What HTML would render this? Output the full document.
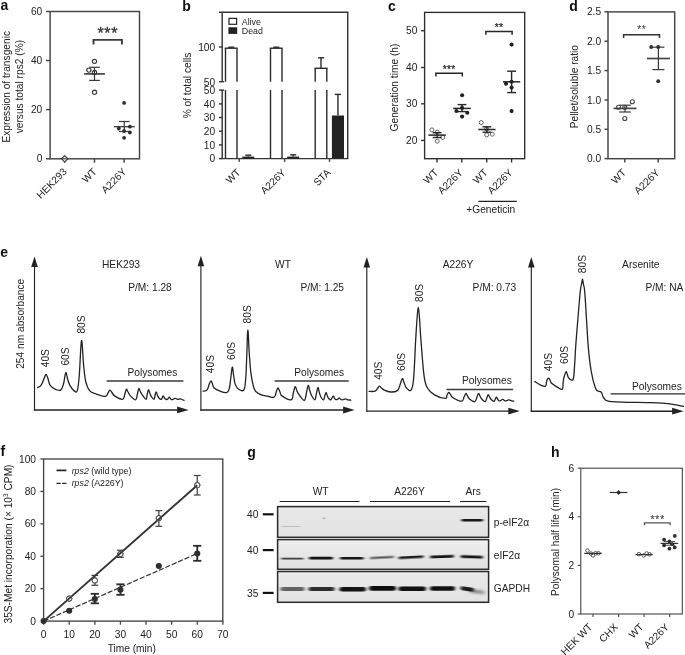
<!DOCTYPE html>
<html><head><meta charset="utf-8"><title>Figure</title>
<style>
html,body{margin:0;padding:0;background:#fff}
svg{display:block}
svg text{font-family:"Liberation Sans",sans-serif}
</style></head><body>
<svg width="685" height="655" viewBox="0 0 685 655">
<rect width="685" height="655" fill="#fff"/>
<text x="0.50" y="9.90" font-size="14" font-weight="bold" fill="#111" >a</text>
<text x="182.30" y="10.50" font-size="14" font-weight="bold" fill="#111" >b</text>
<text x="388.00" y="10.80" font-size="14" font-weight="bold" fill="#111" >c</text>
<text x="569.30" y="10.50" font-size="14" font-weight="bold" fill="#111" >d</text>
<text x="0.30" y="256.50" font-size="14" font-weight="bold" fill="#111" >e</text>
<text x="0.40" y="455.70" font-size="14" font-weight="bold" fill="#111" >f</text>
<text x="247.30" y="456.80" font-size="14" font-weight="bold" fill="#111" >g</text>
<text x="551.00" y="456.80" font-size="14" font-weight="bold" fill="#111" >h</text>
<rect x="50.10" y="11.50" width="89.40" height="147.30" fill="none" stroke="#444" stroke-width="1.45"/>
<line x1="46.00" y1="11.50" x2="50.10" y2="11.50" stroke="#444" stroke-width="1.45" />
<text x="42.30" y="15.10" font-size="10.2" text-anchor="end" fill="#222" >60</text>
<line x1="46.00" y1="60.50" x2="50.10" y2="60.50" stroke="#444" stroke-width="1.45" />
<text x="42.30" y="64.10" font-size="10.2" text-anchor="end" fill="#222" >40</text>
<line x1="46.00" y1="109.60" x2="50.10" y2="109.60" stroke="#444" stroke-width="1.45" />
<text x="42.30" y="113.20" font-size="10.2" text-anchor="end" fill="#222" >20</text>
<line x1="46.00" y1="158.80" x2="50.10" y2="158.80" stroke="#444" stroke-width="1.45" />
<text x="42.30" y="162.40" font-size="10.2" text-anchor="end" fill="#222" >0</text>
<line x1="64.60" y1="158.80" x2="64.60" y2="162.80" stroke="#444" stroke-width="1.45" />
<line x1="94.50" y1="158.80" x2="94.50" y2="162.80" stroke="#444" stroke-width="1.45" />
<line x1="124.10" y1="158.80" x2="124.10" y2="162.80" stroke="#444" stroke-width="1.45" />
<text x="67.60" y="172.30" font-size="10.2" text-anchor="end" transform="rotate(-45 67.60 172.30)" fill="#222" >HEK293</text>
<text x="97.50" y="172.30" font-size="10.2" text-anchor="end" transform="rotate(-45 97.50 172.30)" fill="#222" >WT</text>
<text x="127.10" y="172.30" font-size="10.2" text-anchor="end" transform="rotate(-45 127.10 172.30)" fill="#222" >A226Y</text>
<text x="9.60" y="86.80" font-size="10.2" text-anchor="middle" transform="rotate(-90 9.60 86.80)" fill="#222" >Expression of transgenic</text>
<text x="22.70" y="86.60" font-size="10.2" text-anchor="middle" transform="rotate(-90 22.70 86.60)" fill="#222" >versus total rps2 (%)</text>
<path d="M64.7 155.6 L67.9 158.8 L64.7 162 L61.5 158.8Z" fill="#fff" stroke="#444" stroke-width="1.2"/>
<line x1="61.00" y1="158.80" x2="68.40" y2="158.80" stroke="#444" stroke-width="1.2" />
<line x1="84.10" y1="73.90" x2="104.90" y2="73.90" stroke="#444" stroke-width="1.7" />
<line x1="94.50" y1="67.30" x2="94.50" y2="80.40" stroke="#383838" stroke-width="1.2" />
<line x1="89.20" y1="67.30" x2="99.80" y2="67.30" stroke="#383838" stroke-width="1.2" />
<line x1="89.20" y1="80.40" x2="99.80" y2="80.40" stroke="#383838" stroke-width="1.2" />
<circle cx="94.50" cy="61.30" r="2.1" fill="none" stroke="#3a3a3a" stroke-width="1.15"/>
<circle cx="88.90" cy="70.10" r="2.1" fill="none" stroke="#3a3a3a" stroke-width="1.15"/>
<circle cx="94.50" cy="72.40" r="2.1" fill="none" stroke="#3a3a3a" stroke-width="1.15"/>
<circle cx="94.50" cy="92.20" r="2.1" fill="none" stroke="#3a3a3a" stroke-width="1.15"/>
<line x1="113.80" y1="126.70" x2="134.80" y2="126.70" stroke="#444" stroke-width="1.35" />
<line x1="124.30" y1="121.50" x2="124.30" y2="131.50" stroke="#383838" stroke-width="1.2" />
<line x1="119.00" y1="121.50" x2="129.60" y2="121.50" stroke="#383838" stroke-width="1.2" />
<line x1="119.00" y1="131.50" x2="129.60" y2="131.50" stroke="#383838" stroke-width="1.2" />
<circle cx="124.10" cy="102.90" r="1.9" fill="#2e2e2e"/>
<circle cx="118.80" cy="128.50" r="1.9" fill="#2e2e2e"/>
<circle cx="129.90" cy="126.70" r="1.9" fill="#2e2e2e"/>
<circle cx="124.10" cy="131.00" r="1.9" fill="#2e2e2e"/>
<circle cx="129.90" cy="132.50" r="1.9" fill="#2e2e2e"/>
<circle cx="124.10" cy="137.80" r="1.9" fill="#2e2e2e"/>
<path d="M93.50 44.40V39.90H121.90V44.40" fill="none" stroke="#3a3a3a" stroke-width="1.9"/>
<text x="107.80" y="38.60" font-size="16" text-anchor="middle" fill="#333" stroke="#333" stroke-width="0.3" letter-spacing="0.65">***</text>
<line x1="219.00" y1="12.25" x2="348.40" y2="12.25" stroke="#363636" stroke-width="1.45" />
<line x1="347.70" y1="12.25" x2="347.70" y2="158.60" stroke="#363636" stroke-width="1.45" />
<line x1="221.50" y1="158.60" x2="348.40" y2="158.60" stroke="#363636" stroke-width="1.45" />
<line x1="222.20" y1="12.25" x2="222.20" y2="81.70" stroke="#363636" stroke-width="1.45" />
<line x1="222.20" y1="90.10" x2="222.20" y2="158.60" stroke="#363636" stroke-width="1.45" />
<line x1="219.00" y1="81.70" x2="224.20" y2="81.70" stroke="#363636" stroke-width="1.45" />
<line x1="219.00" y1="90.10" x2="224.20" y2="90.10" stroke="#363636" stroke-width="1.45" />
<line x1="219.00" y1="158.60" x2="222.20" y2="158.60" stroke="#363636" stroke-width="1.45" />
<text x="215.20" y="162.30" font-size="10.2" text-anchor="end" fill="#222" >0</text>
<line x1="219.00" y1="144.90" x2="222.20" y2="144.90" stroke="#363636" stroke-width="1.45" />
<text x="215.20" y="148.60" font-size="10.2" text-anchor="end" fill="#222" >10</text>
<line x1="219.00" y1="131.20" x2="222.20" y2="131.20" stroke="#363636" stroke-width="1.45" />
<text x="215.20" y="134.90" font-size="10.2" text-anchor="end" fill="#222" >20</text>
<line x1="219.00" y1="117.50" x2="222.20" y2="117.50" stroke="#363636" stroke-width="1.45" />
<text x="215.20" y="121.20" font-size="10.2" text-anchor="end" fill="#222" >30</text>
<line x1="219.00" y1="103.90" x2="222.20" y2="103.90" stroke="#363636" stroke-width="1.45" />
<text x="215.20" y="107.60" font-size="10.2" text-anchor="end" fill="#222" >40</text>
<text x="215.20" y="93.90" font-size="10.2" text-anchor="end" fill="#222" >50</text>
<text x="215.20" y="85.70" font-size="10.2" text-anchor="end" fill="#222" >50</text>
<line x1="219.00" y1="47.00" x2="222.20" y2="47.00" stroke="#363636" stroke-width="1.45" />
<text x="215.20" y="50.60" font-size="10.2" text-anchor="end" fill="#222" >100</text>
<text x="190.50" y="85.50" font-size="10.2" text-anchor="middle" transform="rotate(-90 190.50 85.50)" fill="#222" >% of total cells</text>
<rect x="229.00" y="18.40" width="7.60" height="5.90" fill="#fff" stroke="#222" stroke-width="1.2"/>
<rect x="229.00" y="27.90" width="7.60" height="5.40" fill="#222" stroke="#222" stroke-width="1.2"/>
<text x="241.80" y="25.00" font-size="8.8" fill="#222" >Alive</text>
<text x="241.80" y="34.00" font-size="8.8" fill="#222" >Dead</text>
<line x1="225.50" y1="48.20" x2="225.50" y2="81.70" stroke="#2a2a2a" stroke-width="1.4" />
<line x1="237.00" y1="48.20" x2="237.00" y2="81.70" stroke="#2a2a2a" stroke-width="1.4" />
<line x1="225.50" y1="90.10" x2="225.50" y2="158.60" stroke="#2a2a2a" stroke-width="1.4" />
<line x1="237.00" y1="90.10" x2="237.00" y2="158.60" stroke="#2a2a2a" stroke-width="1.4" />
<line x1="224.80" y1="48.20" x2="237.70" y2="48.20" stroke="#2a2a2a" stroke-width="1.4" />
<line x1="231.25" y1="47.20" x2="231.25" y2="48.20" stroke="#2a2a2a" stroke-width="1.4" />
<line x1="228.30" y1="47.20" x2="234.30" y2="47.20" stroke="#2a2a2a" stroke-width="1.4" />
<rect x="242.3" y="156.6" width="11.90" height="2.00" fill="#222"/>
<line x1="248.25" y1="155.20" x2="248.25" y2="156.60" stroke="#2a2a2a" stroke-width="1.4" />
<line x1="245.30" y1="155.20" x2="251.30" y2="155.20" stroke="#2a2a2a" stroke-width="1.4" />
<line x1="270.50" y1="48.20" x2="270.50" y2="81.70" stroke="#2a2a2a" stroke-width="1.4" />
<line x1="282.00" y1="48.20" x2="282.00" y2="81.70" stroke="#2a2a2a" stroke-width="1.4" />
<line x1="270.50" y1="90.10" x2="270.50" y2="158.60" stroke="#2a2a2a" stroke-width="1.4" />
<line x1="282.00" y1="90.10" x2="282.00" y2="158.60" stroke="#2a2a2a" stroke-width="1.4" />
<line x1="269.80" y1="48.20" x2="282.70" y2="48.20" stroke="#2a2a2a" stroke-width="1.4" />
<line x1="276.25" y1="47.20" x2="276.25" y2="48.20" stroke="#2a2a2a" stroke-width="1.4" />
<line x1="273.30" y1="47.20" x2="279.30" y2="47.20" stroke="#2a2a2a" stroke-width="1.4" />
<rect x="287.2" y="156.6" width="11.90" height="2.00" fill="#222"/>
<line x1="293.15" y1="154.80" x2="293.15" y2="156.60" stroke="#2a2a2a" stroke-width="1.4" />
<line x1="290.20" y1="154.80" x2="296.20" y2="154.80" stroke="#2a2a2a" stroke-width="1.4" />
<line x1="315.20" y1="68.30" x2="315.20" y2="81.70" stroke="#2a2a2a" stroke-width="1.4" />
<line x1="326.80" y1="68.30" x2="326.80" y2="81.70" stroke="#2a2a2a" stroke-width="1.4" />
<line x1="315.20" y1="90.10" x2="315.20" y2="158.60" stroke="#2a2a2a" stroke-width="1.4" />
<line x1="326.80" y1="90.10" x2="326.80" y2="158.60" stroke="#2a2a2a" stroke-width="1.4" />
<line x1="314.50" y1="68.30" x2="327.50" y2="68.30" stroke="#2a2a2a" stroke-width="1.4" />
<line x1="321.00" y1="57.80" x2="321.00" y2="68.30" stroke="#2a2a2a" stroke-width="1.4" />
<line x1="318.00" y1="57.80" x2="324.20" y2="57.80" stroke="#2a2a2a" stroke-width="1.4" />
<rect x="331.9" y="115.5" width="12.10" height="43.10" fill="#222"/>
<line x1="337.95" y1="94.40" x2="337.95" y2="115.50" stroke="#2a2a2a" stroke-width="1.4" />
<line x1="334.80" y1="94.40" x2="341.00" y2="94.40" stroke="#2a2a2a" stroke-width="1.4" />
<line x1="239.30" y1="158.60" x2="239.30" y2="161.80" stroke="#444" stroke-width="1.45" />
<text x="241.10" y="173.10" font-size="10.2" text-anchor="end" transform="rotate(-45 241.10 173.10)" fill="#222" >WT</text>
<line x1="284.60" y1="158.60" x2="284.60" y2="161.80" stroke="#444" stroke-width="1.45" />
<text x="286.40" y="173.10" font-size="10.2" text-anchor="end" transform="rotate(-45 286.40 173.10)" fill="#222" >A226Y</text>
<line x1="329.50" y1="158.60" x2="329.50" y2="161.80" stroke="#444" stroke-width="1.45" />
<text x="331.30" y="173.10" font-size="10.2" text-anchor="end" transform="rotate(-45 331.30 173.10)" fill="#222" >STA</text>
<rect x="424.60" y="12.40" width="100.10" height="146.30" fill="none" stroke="#2c2c2c" stroke-width="1.35"/>
<line x1="421.10" y1="30.70" x2="424.60" y2="30.70" stroke="#2c2c2c" stroke-width="1.35" />
<text x="417.40" y="34.30" font-size="10.2" text-anchor="end" fill="#222" >50</text>
<line x1="421.10" y1="67.50" x2="424.60" y2="67.50" stroke="#2c2c2c" stroke-width="1.35" />
<text x="417.40" y="71.10" font-size="10.2" text-anchor="end" fill="#222" >40</text>
<line x1="421.10" y1="103.80" x2="424.60" y2="103.80" stroke="#2c2c2c" stroke-width="1.35" />
<text x="417.40" y="107.40" font-size="10.2" text-anchor="end" fill="#222" >30</text>
<line x1="421.10" y1="140.40" x2="424.60" y2="140.40" stroke="#2c2c2c" stroke-width="1.35" />
<text x="417.40" y="144.00" font-size="10.2" text-anchor="end" fill="#222" >20</text>
<line x1="437.00" y1="158.70" x2="437.00" y2="162.50" stroke="#2c2c2c" stroke-width="1.35" />
<text x="438.80" y="173.20" font-size="10.2" text-anchor="end" transform="rotate(-45 438.80 173.20)" fill="#222" >WT</text>
<line x1="461.80" y1="158.70" x2="461.80" y2="162.50" stroke="#2c2c2c" stroke-width="1.35" />
<text x="463.60" y="173.20" font-size="10.2" text-anchor="end" transform="rotate(-45 463.60 173.20)" fill="#222" >A226Y</text>
<line x1="486.70" y1="158.70" x2="486.70" y2="162.50" stroke="#2c2c2c" stroke-width="1.35" />
<text x="488.50" y="173.20" font-size="10.2" text-anchor="end" transform="rotate(-45 488.50 173.20)" fill="#222" >WT</text>
<line x1="511.60" y1="158.70" x2="511.60" y2="162.50" stroke="#2c2c2c" stroke-width="1.35" />
<text x="513.40" y="173.20" font-size="10.2" text-anchor="end" transform="rotate(-45 513.40 173.20)" fill="#222" >A226Y</text>
<text x="397.50" y="87.50" font-size="10.2" text-anchor="middle" transform="rotate(-90 397.50 87.50)" fill="#222" >Generation time (h)</text>
<line x1="478.40" y1="201.40" x2="516.80" y2="201.40" stroke="#222" stroke-width="1.2" />
<text x="490.80" y="213.40" font-size="10.2" text-anchor="middle" fill="#222" >+Geneticin</text>
<circle cx="431.90" cy="129.90" r="2.0" fill="none" stroke="#555" stroke-width="0.9"/>
<circle cx="437.20" cy="132.10" r="2.0" fill="none" stroke="#555" stroke-width="0.9"/>
<circle cx="442.70" cy="137.40" r="2.0" fill="none" stroke="#555" stroke-width="0.9"/>
<circle cx="437.20" cy="141.20" r="2.0" fill="none" stroke="#555" stroke-width="0.9"/>
<line x1="428.40" y1="135.10" x2="445.80" y2="135.10" stroke="#262626" stroke-width="1.5" />
<line x1="437.10" y1="132.70" x2="437.10" y2="137.50" stroke="#262626" stroke-width="1.4" />
<line x1="432.70" y1="132.70" x2="441.50" y2="132.70" stroke="#262626" stroke-width="1.4" />
<line x1="432.70" y1="137.50" x2="441.50" y2="137.50" stroke="#262626" stroke-width="1.4" />
<line x1="453.20" y1="108.40" x2="470.80" y2="108.40" stroke="#262626" stroke-width="1.5" />
<line x1="462.00" y1="104.60" x2="462.00" y2="111.60" stroke="#262626" stroke-width="1.4" />
<line x1="457.60" y1="104.60" x2="466.40" y2="104.60" stroke="#262626" stroke-width="1.4" />
<line x1="457.60" y1="111.60" x2="466.40" y2="111.60" stroke="#262626" stroke-width="1.4" />
<circle cx="462.10" cy="95.30" r="2.05" fill="#222"/>
<circle cx="456.40" cy="111.00" r="2.05" fill="#222"/>
<circle cx="467.30" cy="112.80" r="2.05" fill="#222"/>
<circle cx="462.10" cy="116.60" r="2.05" fill="#222"/>
<circle cx="462.10" cy="107.90" r="2.05" fill="#222"/>
<circle cx="481.20" cy="122.60" r="2.0" fill="none" stroke="#555" stroke-width="0.9"/>
<circle cx="486.70" cy="129.00" r="2.0" fill="none" stroke="#555" stroke-width="0.9"/>
<circle cx="486.70" cy="134.90" r="2.0" fill="none" stroke="#555" stroke-width="0.9"/>
<circle cx="492.20" cy="134.20" r="2.0" fill="none" stroke="#555" stroke-width="0.9"/>
<line x1="478.30" y1="129.50" x2="495.50" y2="129.50" stroke="#262626" stroke-width="1.5" />
<line x1="486.90" y1="126.80" x2="486.90" y2="132.20" stroke="#262626" stroke-width="1.4" />
<line x1="482.50" y1="126.80" x2="491.30" y2="126.80" stroke="#262626" stroke-width="1.4" />
<line x1="482.50" y1="132.20" x2="491.30" y2="132.20" stroke="#262626" stroke-width="1.4" />
<line x1="503.00" y1="81.80" x2="520.20" y2="81.80" stroke="#262626" stroke-width="1.5" />
<line x1="511.60" y1="71.20" x2="511.60" y2="92.60" stroke="#262626" stroke-width="1.4" />
<line x1="507.20" y1="71.20" x2="516.00" y2="71.20" stroke="#262626" stroke-width="1.4" />
<line x1="507.20" y1="92.60" x2="516.00" y2="92.60" stroke="#262626" stroke-width="1.4" />
<circle cx="511.60" cy="44.60" r="2.05" fill="#222"/>
<circle cx="506.00" cy="83.80" r="2.05" fill="#222"/>
<circle cx="511.60" cy="81.80" r="2.05" fill="#222"/>
<circle cx="511.60" cy="87.50" r="2.05" fill="#222"/>
<circle cx="511.60" cy="111.10" r="2.05" fill="#222"/>
<path d="M435.90 76.40V73.20H462.30V76.40" fill="none" stroke="#262626" stroke-width="1.5"/>
<text x="449.20" y="72.70" font-size="10.2" text-anchor="middle" fill="#2a2a2a" letter-spacing="0.3" stroke="#2a2a2a" stroke-width="0.25">***</text>
<path d="M485.90 34.70V31.50H512.10V34.70" fill="none" stroke="#262626" stroke-width="1.5"/>
<text x="498.90" y="30.60" font-size="10.2" text-anchor="middle" fill="#2a2a2a" letter-spacing="0.3" stroke="#2a2a2a" stroke-width="0.25">**</text>
<rect x="608.00" y="11.90" width="66.70" height="146.80" fill="none" stroke="#444" stroke-width="1.45"/>
<line x1="604.50" y1="11.80" x2="608.00" y2="11.80" stroke="#444" stroke-width="1.45" />
<text x="601.10" y="15.40" font-size="10.2" text-anchor="end" fill="#222" >2.5</text>
<line x1="604.50" y1="41.20" x2="608.00" y2="41.20" stroke="#444" stroke-width="1.45" />
<text x="601.10" y="44.80" font-size="10.2" text-anchor="end" fill="#222" >2.0</text>
<line x1="604.50" y1="70.60" x2="608.00" y2="70.60" stroke="#444" stroke-width="1.45" />
<text x="601.10" y="74.20" font-size="10.2" text-anchor="end" fill="#222" >1.5</text>
<line x1="604.50" y1="100.00" x2="608.00" y2="100.00" stroke="#444" stroke-width="1.45" />
<text x="601.10" y="103.60" font-size="10.2" text-anchor="end" fill="#222" >1.0</text>
<line x1="604.50" y1="129.30" x2="608.00" y2="129.30" stroke="#444" stroke-width="1.45" />
<text x="601.10" y="132.90" font-size="10.2" text-anchor="end" fill="#222" >0.5</text>
<line x1="604.50" y1="158.60" x2="608.00" y2="158.60" stroke="#444" stroke-width="1.45" />
<text x="601.10" y="162.20" font-size="10.2" text-anchor="end" fill="#222" >0.0</text>
<line x1="624.80" y1="158.70" x2="624.80" y2="162.50" stroke="#444" stroke-width="1.45" />
<text x="626.60" y="173.20" font-size="10.2" text-anchor="end" transform="rotate(-45 626.60 173.20)" fill="#222" >WT</text>
<line x1="658.20" y1="158.70" x2="658.20" y2="162.50" stroke="#444" stroke-width="1.45" />
<text x="660.00" y="173.20" font-size="10.2" text-anchor="end" transform="rotate(-45 660.00 173.20)" fill="#222" >A226Y</text>
<text x="578.30" y="86.60" font-size="10.2" text-anchor="middle" transform="rotate(-90 578.30 86.60)" fill="#222" >Pellet/soluble ratio</text>
<line x1="613.50" y1="108.40" x2="636.50" y2="108.40" stroke="#444" stroke-width="1.7" />
<line x1="625.00" y1="105.20" x2="625.00" y2="112.00" stroke="#383838" stroke-width="1.2" />
<line x1="619.20" y1="105.20" x2="630.80" y2="105.20" stroke="#383838" stroke-width="1.2" />
<line x1="619.20" y1="112.00" x2="630.80" y2="112.00" stroke="#383838" stroke-width="1.2" />
<circle cx="632.30" cy="101.70" r="2.0" fill="none" stroke="#444" stroke-width="1.1"/>
<circle cx="618.50" cy="107.20" r="2.0" fill="none" stroke="#444" stroke-width="1.1"/>
<circle cx="624.80" cy="107.20" r="2.0" fill="none" stroke="#444" stroke-width="1.1"/>
<circle cx="624.80" cy="118.50" r="2.0" fill="none" stroke="#444" stroke-width="1.1"/>
<line x1="646.90" y1="58.50" x2="669.90" y2="58.50" stroke="#444" stroke-width="1.7" />
<line x1="658.40" y1="47.20" x2="658.40" y2="69.60" stroke="#383838" stroke-width="1.2" />
<line x1="652.40" y1="47.20" x2="664.40" y2="47.20" stroke="#383838" stroke-width="1.2" />
<line x1="652.40" y1="69.60" x2="664.40" y2="69.60" stroke="#383838" stroke-width="1.2" />
<circle cx="651.20" cy="47.00" r="1.9" fill="#2e2e2e"/>
<circle cx="658.20" cy="47.00" r="1.9" fill="#2e2e2e"/>
<circle cx="658.20" cy="81.20" r="1.9" fill="#2e2e2e"/>
<path d="M623.60 37.90V34.70H659.50V37.90" fill="none" stroke="#333" stroke-width="1.5"/>
<text x="641.80" y="33.00" font-size="10.2" text-anchor="middle" fill="#333" letter-spacing="0.7">**</text>
<line x1="34.50" y1="264.50" x2="34.50" y2="410.60" stroke="#222" stroke-width="1.15" />
<line x1="33.95" y1="409.90" x2="180.60" y2="409.90" stroke="#222" stroke-width="1.45" />
<path d="M34.5 256.5L37.8 267.0H31.2Z" fill="#222"/>
<path d="M188.6 409.9L177.1 406.5V413.3Z" fill="#222"/>
<text x="121.00" y="267.70" font-size="10.2" text-anchor="middle" fill="#222" >HEK293</text>
<text x="128.20" y="290.50" font-size="10.2" fill="#222" >P/M: 1.28</text>
<text x="48.90" y="367.20" font-size="10.2" transform="rotate(-90 48.90 367.20)" fill="#222" >40S</text>
<text x="68.70" y="365.60" font-size="10.2" transform="rotate(-90 68.70 365.60)" fill="#222" >60S</text>
<text x="84.60" y="333.60" font-size="10.2" transform="rotate(-90 84.60 333.60)" fill="#222" >80S</text>
<text x="127.50" y="376.10" font-size="10.2" fill="#222" >Polysomes</text>
<line x1="106.70" y1="380.90" x2="183.40" y2="380.90" stroke="#3a3a3a" stroke-width="1.5" />
<text x="24.50" y="323.80" font-size="10.2" text-anchor="middle" transform="rotate(-90 24.50 323.80)" fill="#222" >254 nm absorbance</text>
<path d="M37.6 387.5C38.2 387.1 39.7 387.2 41.0 385.4C42.3 383.6 43.3 380.1 44.3 378.0C45.2 375.9 45.3 374.4 46.0 374.4C46.7 374.4 47.0 375.9 47.8 378.0C48.6 380.1 48.7 383.3 50.2 385.4C51.7 387.5 53.5 388.4 55.5 389.3C57.5 390.2 59.2 391.1 60.7 390.1C62.2 389.1 62.5 387.3 63.5 384.0C64.5 380.7 64.9 373.8 65.7 372.8C66.5 371.9 66.8 376.6 67.6 379.0C68.4 381.4 68.7 383.2 69.9 385.4C71.1 387.6 72.5 389.6 73.9 390.6C75.3 391.6 76.3 393.6 77.3 390.6C78.3 387.6 78.5 384.5 79.3 375.0C80.1 365.5 80.7 342.6 81.5 340.7C82.3 338.8 82.8 357.3 83.6 365.0C84.4 372.7 84.6 376.5 85.7 381.4C86.8 386.3 87.6 388.2 89.6 390.6C91.6 393.0 93.2 392.9 96.2 394.0C99.2 395.1 103.2 396.6 105.4 396.4C107.6 396.2 107.1 394.2 108.0 393.0C108.9 391.8 109.1 390.2 109.9 390.1C110.7 390.0 111.1 391.4 112.0 392.5C112.9 393.6 112.6 394.6 114.6 395.9C116.6 397.2 120.6 399.5 122.5 399.3C124.4 399.1 123.9 396.9 124.6 395.0C125.3 393.1 125.8 389.9 126.4 389.3C127.0 388.7 127.2 390.7 128.0 392.0C128.8 393.3 129.0 394.4 130.4 395.9C131.8 397.4 134.3 400.2 135.6 399.8C136.9 399.4 136.8 396.1 137.4 394.0C138.0 391.9 138.2 388.9 138.8 388.5C139.4 388.1 139.7 390.6 140.5 392.0C141.3 393.4 141.9 394.5 143.0 395.9C144.1 397.3 145.3 399.7 146.1 399.3C146.9 398.9 146.8 395.8 147.3 394.0C147.8 392.2 148.0 390.1 148.5 389.9C149.0 389.7 149.2 391.7 149.8 393.0C150.4 394.3 150.6 395.5 151.4 396.7C152.2 397.9 153.3 399.5 154.0 399.3C154.7 399.1 154.6 396.9 155.0 395.5C155.4 394.1 155.6 392.0 156.1 392.0C156.6 392.0 156.9 394.3 157.5 395.5C158.1 396.7 158.6 397.8 159.3 398.5C160.0 399.2 160.7 399.8 161.4 399.3C162.1 398.8 162.6 396.1 163.2 395.9C163.8 395.7 164.0 397.4 164.5 398.0C165.0 398.6 165.2 399.1 165.8 399.3C166.4 399.5 167.0 399.7 167.6 399.3C168.2 398.9 168.6 397.3 169.2 397.2C169.8 397.1 170.0 398.3 170.6 398.8C171.2 399.3 171.6 399.7 172.4 399.6C173.2 399.5 174.0 398.4 175.0 398.3C176.0 398.2 176.7 399.2 177.7 399.3C178.7 399.4 179.1 398.6 180.3 398.8C181.5 399.0 183.3 400.1 184.0 400.4" fill="none" stroke="#222" stroke-width="1.3" stroke-linejoin="round" stroke-linecap="round"/>
<line x1="200.90" y1="263.80" x2="200.90" y2="410.70" stroke="#222" stroke-width="1.15" />
<line x1="200.35" y1="410.00" x2="346.60" y2="410.00" stroke="#222" stroke-width="1.45" />
<path d="M200.9 255.8L204.2 266.3H197.6Z" fill="#222"/>
<path d="M354.6 410.0L343.1 406.6V413.4Z" fill="#222"/>
<text x="283.00" y="267.70" font-size="10.2" text-anchor="middle" fill="#222" >WT</text>
<text x="300.40" y="290.50" font-size="10.2" fill="#222" >P/M: 1.25</text>
<text x="213.80" y="373.20" font-size="10.2" transform="rotate(-90 213.80 373.20)" fill="#222" >40S</text>
<text x="235.10" y="360.00" font-size="10.2" transform="rotate(-90 235.10 360.00)" fill="#222" >60S</text>
<text x="251.00" y="323.40" font-size="10.2" transform="rotate(-90 251.00 323.40)" fill="#222" >80S</text>
<text x="294.30" y="376.10" font-size="10.2" fill="#222" >Polysomes</text>
<line x1="274.60" y1="380.90" x2="348.70" y2="380.90" stroke="#3a3a3a" stroke-width="1.5" />
<path d="M203.1 391.2C203.9 391.0 205.9 391.3 207.1 389.9C208.3 388.5 208.6 385.7 209.3 384.0C210.0 382.3 210.4 380.9 211.0 380.9C211.6 380.9 211.9 382.7 212.5 384.0C213.1 385.3 212.7 386.6 214.2 388.0C215.7 389.4 217.8 390.3 220.2 391.2C222.6 392.1 225.1 393.1 226.8 392.5C228.5 391.9 228.6 390.9 229.4 388.0C230.2 385.1 230.3 381.0 230.9 377.0C231.5 373.0 231.8 367.2 232.3 367.0C232.8 366.8 233.1 372.8 233.7 376.0C234.3 379.2 234.3 381.6 235.2 384.1C236.1 386.6 236.9 388.2 238.6 389.3C240.3 390.4 242.6 391.9 243.9 389.9C245.2 387.9 245.1 385.4 245.7 378.8C246.3 372.2 246.4 364.2 246.8 355.0C247.2 345.8 247.3 330.8 247.8 330.2C248.3 329.6 248.6 343.8 249.2 352.0C249.8 360.2 250.0 366.5 251.0 373.6C252.0 380.7 252.8 385.4 254.4 389.3C256.0 393.2 257.1 392.8 259.6 394.1C262.1 395.4 264.7 395.6 267.5 396.2C270.3 396.8 272.4 398.0 274.1 397.2C275.8 396.4 275.5 393.7 276.2 392.0C276.9 390.3 277.3 388.1 278.0 388.0C278.7 387.9 279.0 390.0 279.8 391.5C280.6 393.0 279.8 394.3 282.0 395.9C284.2 397.5 289.1 400.4 291.2 399.8C293.3 399.2 292.6 395.5 293.3 393.0C294.0 390.5 294.4 387.2 295.1 386.7C295.8 386.2 296.1 389.0 296.8 390.5C297.5 392.0 297.6 392.7 299.0 394.6C300.4 396.5 302.9 400.7 304.3 400.4C305.7 400.1 305.7 395.9 306.4 393.0C307.1 390.1 307.6 386.0 308.2 385.4C308.8 384.8 309.0 388.2 309.6 390.0C310.2 391.8 310.4 393.2 311.4 395.1C312.4 397.0 313.8 400.2 314.8 399.8C315.8 399.4 315.9 395.3 316.5 393.0C317.1 390.7 317.5 387.7 318.0 387.5C318.5 387.3 318.7 390.3 319.2 392.0C319.7 393.7 320.0 395.2 320.8 396.7C321.6 398.2 322.7 400.0 323.5 399.8C324.3 399.6 324.4 396.9 324.9 395.5C325.4 394.1 325.7 392.5 326.1 392.5C326.5 392.5 326.7 394.4 327.2 395.5C327.7 396.6 328.0 397.7 328.7 398.5C329.4 399.3 329.9 400.2 330.8 399.8C331.7 399.4 332.5 396.5 333.2 396.2C333.9 395.9 333.9 397.6 334.4 398.2C334.9 398.8 335.2 399.4 335.8 399.6C336.4 399.8 337.0 399.6 337.6 399.3C338.2 399.0 338.6 398.0 339.2 398.0C339.8 398.0 340.0 398.9 340.6 399.2C341.2 399.5 341.5 399.9 342.4 399.8C343.3 399.7 344.5 398.8 345.5 398.8C346.5 398.8 346.6 399.6 347.6 399.8C348.6 400.0 350.2 400.0 350.8 400.1" fill="none" stroke="#222" stroke-width="1.3" stroke-linejoin="round" stroke-linecap="round"/>
<line x1="366.80" y1="265.00" x2="366.80" y2="411.80" stroke="#222" stroke-width="1.15" />
<line x1="366.25" y1="411.10" x2="511.80" y2="411.10" stroke="#222" stroke-width="1.45" />
<path d="M366.8 257.0L370.1 267.5H363.5Z" fill="#222"/>
<path d="M519.8 411.1L508.3 407.7V414.5Z" fill="#222"/>
<text x="458.00" y="267.70" font-size="10.2" text-anchor="middle" fill="#222" >A226Y</text>
<text x="472.60" y="290.50" font-size="10.2" fill="#222" >P/M: 0.73</text>
<text x="382.00" y="379.80" font-size="10.2" transform="rotate(-90 382.00 379.80)" fill="#222" >40S</text>
<text x="405.20" y="371.00" font-size="10.2" transform="rotate(-90 405.20 371.00)" fill="#222" >60S</text>
<text x="422.60" y="302.00" font-size="10.2" transform="rotate(-90 422.60 302.00)" fill="#222" >80S</text>
<text x="462.00" y="383.60" font-size="10.2" fill="#222" >Polysomes</text>
<line x1="446.50" y1="389.50" x2="513.00" y2="389.50" stroke="#3a3a3a" stroke-width="1.5" />
<path d="M369.2 391.4C370.3 391.4 373.4 391.8 375.0 391.2C376.6 390.6 376.7 389.4 377.5 388.5C378.3 387.6 378.7 386.3 379.4 386.2C380.1 386.1 380.4 387.1 381.3 387.8C382.2 388.5 382.4 389.3 384.2 390.1C386.0 390.9 388.2 391.9 390.7 392.0C393.2 392.1 395.5 391.9 397.3 390.6C399.1 389.3 399.1 387.3 400.0 385.0C400.9 382.7 401.5 379.1 402.3 378.6C403.1 378.1 403.2 380.7 404.0 382.5C404.8 384.3 405.2 386.6 406.5 388.0C407.8 389.4 409.7 391.8 411.0 390.1C412.3 388.4 412.7 388.4 413.6 378.8C414.5 369.2 415.0 351.0 415.7 339.4C416.4 327.8 416.6 324.1 417.1 318.0C417.6 311.9 417.8 307.4 418.3 307.4C418.8 307.4 419.0 311.9 419.5 318.0C420.0 324.1 420.0 328.3 420.9 339.4C421.8 350.5 422.8 367.0 424.1 376.2C425.4 385.4 425.6 384.5 427.5 388.0C429.4 391.5 430.8 392.6 434.1 394.6C437.4 396.6 442.6 398.2 445.1 398.3C447.6 398.4 446.3 396.1 447.0 395.0C447.7 393.9 448.1 392.6 448.8 392.5C449.5 392.4 449.7 393.5 450.5 394.5C451.3 395.5 450.9 396.4 453.0 397.7C455.1 399.0 459.6 401.3 461.7 401.2C463.8 401.1 463.2 398.5 464.0 397.0C464.8 395.5 465.3 393.7 465.9 393.5C466.5 393.3 466.7 394.8 467.4 395.8C468.1 396.8 468.1 397.9 469.5 399.0C470.9 400.1 473.4 402.0 474.8 401.7C476.2 401.4 476.1 399.1 476.8 397.5C477.5 395.9 477.9 393.8 478.5 393.5C479.1 393.2 479.4 394.9 480.0 396.0C480.6 397.1 480.9 398.2 481.9 399.3C482.9 400.4 484.4 401.9 485.3 401.7C486.2 401.5 486.2 399.3 486.8 398.0C487.4 396.7 487.7 394.8 488.2 394.6C488.7 394.4 489.0 396.0 489.6 397.0C490.2 398.0 490.6 399.0 491.4 399.8C492.2 400.6 493.3 401.6 494.0 401.4C494.7 401.2 494.8 399.8 495.3 399.0C495.8 398.2 496.0 397.2 496.4 397.2C496.8 397.2 497.1 398.3 497.6 399.0C498.1 399.7 498.6 400.7 499.2 400.9C499.8 401.1 500.3 400.6 501.0 400.3C501.7 400.0 502.3 399.3 502.9 399.3C503.5 399.3 503.5 399.9 504.0 400.2C504.5 400.5 504.9 400.9 505.5 400.9C506.1 400.9 506.6 400.5 507.3 400.3C508.0 400.1 508.3 399.7 509.0 399.8C509.7 399.9 510.1 400.3 511.0 400.6C511.9 400.9 513.2 401.1 513.7 401.2" fill="none" stroke="#222" stroke-width="1.3" stroke-linejoin="round" stroke-linecap="round"/>
<line x1="531.30" y1="265.00" x2="531.30" y2="411.90" stroke="#222" stroke-width="1.15" />
<line x1="530.75" y1="411.20" x2="675.60" y2="411.20" stroke="#222" stroke-width="1.45" />
<path d="M531.3 257.0L534.6 267.5H528.0Z" fill="#222"/>
<path d="M683.6 411.2L672.1 407.8V414.6Z" fill="#222"/>
<text x="640.80" y="267.70" font-size="10.2" text-anchor="middle" fill="#222" >Arsenite</text>
<text x="645.40" y="290.50" font-size="10.2" fill="#222" >P/M: NA</text>
<text x="551.60" y="371.20" font-size="10.2" transform="rotate(-90 551.60 371.20)" fill="#222" >40S</text>
<text x="568.40" y="364.00" font-size="10.2" transform="rotate(-90 568.40 364.00)" fill="#222" >60S</text>
<text x="586.10" y="273.20" font-size="10.2" transform="rotate(-90 586.10 273.20)" fill="#222" >80S</text>
<text x="632.00" y="389.50" font-size="10.2" fill="#222" >Polysomes</text>
<line x1="610.60" y1="393.90" x2="685.00" y2="393.90" stroke="#2a2a2a" stroke-width="1.25" />
<path d="M534.8 381.6C536.0 382.3 539.0 384.4 541.0 385.3C543.0 386.2 544.5 386.8 545.5 386.2C546.5 385.6 546.1 383.3 546.5 382.0C546.9 380.7 546.9 379.9 547.4 379.2C547.9 378.5 548.4 378.1 548.9 378.3C549.4 378.5 549.7 379.6 550.2 380.5C550.7 381.4 550.2 381.9 551.6 383.2C553.0 384.5 555.7 386.2 557.7 387.4C559.7 388.6 561.3 390.1 562.3 389.3C563.3 388.5 562.8 385.2 563.1 383.0C563.4 380.8 563.3 379.8 563.9 377.7C564.5 375.6 565.4 372.6 566.0 371.9C566.6 371.2 566.7 372.9 567.2 374.0C567.7 375.1 567.6 376.5 568.4 377.7C569.2 378.9 570.5 380.1 571.5 380.1C572.5 380.1 573.0 381.1 573.6 377.7C574.2 374.3 574.3 369.0 574.8 362.0C575.3 355.0 575.1 353.7 576.1 341.0C577.1 328.3 578.9 305.9 579.9 295.2C580.9 284.5 580.9 287.5 581.4 284.5C581.9 281.5 582.4 279.7 582.5 279.2C582.6 279.8 583.1 282.0 583.6 285.0C584.1 288.0 584.1 283.4 585.0 295.2C585.9 307.0 587.1 332.6 588.3 347.1C589.5 361.6 590.0 364.1 591.3 371.6C592.6 379.1 593.8 383.2 595.0 386.8C596.2 390.4 596.2 389.8 597.4 390.8C598.6 391.8 599.9 390.7 601.1 392.0C602.3 393.3 602.2 395.8 603.5 397.5C604.8 399.2 604.6 400.3 608.1 401.2C611.6 402.1 613.5 401.8 621.9 402.1C630.3 402.4 643.7 402.4 652.4 402.7C661.1 403.0 661.8 402.9 667.7 403.6C673.6 404.3 680.5 405.9 683.5 406.4" fill="none" stroke="#222" stroke-width="1.3" stroke-linejoin="round" stroke-linecap="round"/>
<rect x="43.60" y="459.00" width="179.20" height="162.10" fill="none" stroke="#444" stroke-width="1.35"/>
<text x="36.00" y="624.70" font-size="10.2" text-anchor="end" fill="#222" >0</text>
<line x1="40.40" y1="588.68" x2="43.60" y2="588.68" stroke="#444" stroke-width="1.3" />
<text x="36.00" y="592.28" font-size="10.2" text-anchor="end" fill="#222" >20</text>
<line x1="40.40" y1="556.26" x2="43.60" y2="556.26" stroke="#444" stroke-width="1.3" />
<text x="36.00" y="559.86" font-size="10.2" text-anchor="end" fill="#222" >40</text>
<line x1="40.40" y1="523.84" x2="43.60" y2="523.84" stroke="#444" stroke-width="1.3" />
<text x="36.00" y="527.44" font-size="10.2" text-anchor="end" fill="#222" >60</text>
<line x1="40.40" y1="491.42" x2="43.60" y2="491.42" stroke="#444" stroke-width="1.3" />
<text x="36.00" y="495.02" font-size="10.2" text-anchor="end" fill="#222" >80</text>
<line x1="40.40" y1="459.00" x2="43.60" y2="459.00" stroke="#444" stroke-width="1.3" />
<text x="36.00" y="462.60" font-size="10.2" text-anchor="end" fill="#222" >100</text>
<line x1="43.60" y1="621.10" x2="43.60" y2="624.70" stroke="#444" stroke-width="1.3" />
<text x="43.60" y="637.50" font-size="10.2" text-anchor="middle" fill="#222" >0</text>
<line x1="69.21" y1="621.10" x2="69.21" y2="624.70" stroke="#444" stroke-width="1.3" />
<text x="69.21" y="637.50" font-size="10.2" text-anchor="middle" fill="#222" >10</text>
<line x1="94.82" y1="621.10" x2="94.82" y2="624.70" stroke="#444" stroke-width="1.3" />
<text x="94.82" y="637.50" font-size="10.2" text-anchor="middle" fill="#222" >20</text>
<line x1="120.43" y1="621.10" x2="120.43" y2="624.70" stroke="#444" stroke-width="1.3" />
<text x="120.43" y="637.50" font-size="10.2" text-anchor="middle" fill="#222" >30</text>
<line x1="146.04" y1="621.10" x2="146.04" y2="624.70" stroke="#444" stroke-width="1.3" />
<text x="146.04" y="637.50" font-size="10.2" text-anchor="middle" fill="#222" >40</text>
<line x1="171.65" y1="621.10" x2="171.65" y2="624.70" stroke="#444" stroke-width="1.3" />
<text x="171.65" y="637.50" font-size="10.2" text-anchor="middle" fill="#222" >50</text>
<line x1="197.26" y1="621.10" x2="197.26" y2="624.70" stroke="#444" stroke-width="1.3" />
<text x="197.26" y="637.50" font-size="10.2" text-anchor="middle" fill="#222" >60</text>
<line x1="222.87" y1="621.10" x2="222.87" y2="624.70" stroke="#444" stroke-width="1.3" />
<text x="222.87" y="637.50" font-size="10.2" text-anchor="middle" fill="#222" >70</text>
<text x="131.80" y="652.20" font-size="10.2" text-anchor="middle" fill="#222" >Time (min)</text>
<text font-size="10.2" fill="#222" text-anchor="middle" transform="translate(11.8 544) rotate(-90)">35S-Met incorporation (× 10<tspan font-size="6.5" dy="-3.5">3</tspan><tspan dy="3.5"> CPM)</tspan></text>
<line x1="56.50" y1="470.40" x2="66.40" y2="470.40" stroke="#222" stroke-width="1.7" />
<line x1="56.50" y1="483.40" x2="66.40" y2="483.40" stroke="#222" stroke-width="1.25" stroke-dasharray="4.2 1.5"/>
<text x="71.7" y="473.7" font-size="8.8" fill="#222"><tspan font-style="italic">rps2</tspan> (wild type)</text>
<text x="71.7" y="486.3" font-size="8.8" fill="#222"><tspan font-style="italic">rps2</tspan> (A226Y)</text>
<line x1="94.82" y1="575.40" x2="94.82" y2="585.30" stroke="#444" stroke-width="1.25" />
<line x1="91.42" y1="575.40" x2="98.22" y2="575.40" stroke="#444" stroke-width="1.25" />
<line x1="91.42" y1="585.30" x2="98.22" y2="585.30" stroke="#444" stroke-width="1.25" />
<line x1="120.43" y1="550.20" x2="120.43" y2="557.40" stroke="#444" stroke-width="1.25" />
<line x1="117.03" y1="550.20" x2="123.83" y2="550.20" stroke="#444" stroke-width="1.25" />
<line x1="117.03" y1="557.40" x2="123.83" y2="557.40" stroke="#444" stroke-width="1.25" />
<line x1="158.84" y1="510.60" x2="158.84" y2="526.30" stroke="#444" stroke-width="1.25" />
<line x1="155.44" y1="510.60" x2="162.25" y2="510.60" stroke="#444" stroke-width="1.25" />
<line x1="155.44" y1="526.30" x2="162.25" y2="526.30" stroke="#444" stroke-width="1.25" />
<line x1="197.26" y1="475.50" x2="197.26" y2="495.00" stroke="#444" stroke-width="1.25" />
<line x1="193.86" y1="475.50" x2="200.66" y2="475.50" stroke="#444" stroke-width="1.25" />
<line x1="193.86" y1="495.00" x2="200.66" y2="495.00" stroke="#444" stroke-width="1.25" />
<circle cx="69.21" cy="598.60" r="2.7" fill="#fff" stroke="#444" stroke-width="0.9"/>
<circle cx="94.82" cy="580.50" r="2.7" fill="#fff" stroke="#444" stroke-width="0.9"/>
<circle cx="120.43" cy="554.00" r="2.7" fill="#fff" stroke="#444" stroke-width="0.9"/>
<circle cx="158.84" cy="518.20" r="2.7" fill="#fff" stroke="#444" stroke-width="0.9"/>
<circle cx="197.26" cy="485.20" r="2.7" fill="#fff" stroke="#444" stroke-width="0.9"/>
<line x1="43.60" y1="621.10" x2="197.26" y2="485.20" stroke="#333" stroke-width="1.9" />
<line x1="43.60" y1="621.10" x2="197.26" y2="553.50" stroke="#333" stroke-width="1.2" stroke-dasharray="5.2 1.8"/>
<circle cx="69.21" cy="598.60" r="2.7" fill="none" stroke="#555" stroke-width="0.9"/>
<circle cx="94.82" cy="580.50" r="2.7" fill="none" stroke="#555" stroke-width="0.9"/>
<circle cx="120.43" cy="554.00" r="2.7" fill="none" stroke="#555" stroke-width="0.9"/>
<circle cx="158.84" cy="518.20" r="2.7" fill="none" stroke="#555" stroke-width="0.9"/>
<circle cx="197.26" cy="485.20" r="2.7" fill="none" stroke="#555" stroke-width="0.9"/>
<line x1="94.82" y1="593.80" x2="94.82" y2="603.30" stroke="#2a2a2a" stroke-width="1.8" />
<line x1="90.72" y1="593.80" x2="98.92" y2="593.80" stroke="#2a2a2a" stroke-width="1.8" />
<line x1="90.72" y1="603.30" x2="98.92" y2="603.30" stroke="#2a2a2a" stroke-width="1.8" />
<line x1="120.43" y1="584.30" x2="120.43" y2="594.80" stroke="#2a2a2a" stroke-width="1.8" />
<line x1="116.33" y1="584.30" x2="124.53" y2="584.30" stroke="#2a2a2a" stroke-width="1.8" />
<line x1="116.33" y1="594.80" x2="124.53" y2="594.80" stroke="#2a2a2a" stroke-width="1.8" />
<line x1="197.26" y1="545.80" x2="197.26" y2="560.80" stroke="#2a2a2a" stroke-width="1.8" />
<line x1="193.16" y1="545.80" x2="201.36" y2="545.80" stroke="#2a2a2a" stroke-width="1.8" />
<line x1="193.16" y1="560.80" x2="201.36" y2="560.80" stroke="#2a2a2a" stroke-width="1.8" />
<circle cx="43.60" cy="621.10" r="3.05" fill="#2e2e2e"/>
<circle cx="69.21" cy="610.75" r="3.05" fill="#2e2e2e"/>
<circle cx="94.82" cy="599.00" r="3.05" fill="#2e2e2e"/>
<circle cx="120.43" cy="589.70" r="3.05" fill="#2e2e2e"/>
<circle cx="158.84" cy="566.00" r="3.05" fill="#2e2e2e"/>
<circle cx="197.26" cy="553.50" r="3.05" fill="#2e2e2e"/>
<defs><filter id="bl" x="-20%" y="-300%" width="140%" height="700%"><feGaussianBlur stdDeviation="1.5 0.65"/></filter><filter id="bl2" x="-20%" y="-300%" width="140%" height="700%"><feGaussianBlur stdDeviation="2.0 1.1"/></filter><linearGradient id="bg1" x1="0" y1="0" x2="0" y2="1"><stop offset="0" stop-color="#e9e9e9"/><stop offset="1" stop-color="#e2e2e2"/></linearGradient><linearGradient id="bg2" x1="0" y1="0" x2="0" y2="1"><stop offset="0" stop-color="#f0f0f0"/><stop offset="1" stop-color="#dedede"/></linearGradient></defs>
<rect x="277.60" y="506.60" width="211.00" height="30.70" fill="url(#bg1)" stroke="#2a2a2a" stroke-width="1.5"/>
<rect x="277.60" y="539.60" width="211.00" height="29.70" fill="url(#bg2)" stroke="#2a2a2a" stroke-width="1.5"/>
<rect x="277.60" y="571.50" width="211.00" height="30.80" fill="url(#bg1)" stroke="#2a2a2a" stroke-width="1.5"/>
<rect x="281.5" y="525.90" width="18.5" height="0.8" rx="0.4" fill="#0a0a0a" opacity="0.25" filter="url(#bl)"/>
<rect x="461.5" y="519.05" width="21.5" height="2.5" rx="1.25" fill="#0a0a0a" opacity="0.95" filter="url(#bl)"/>
<circle cx="324" cy="518.2" r="0.9" fill="#777" filter="url(#bl)"/>
<rect x="281.0" y="557.70" width="22.5" height="1.8" rx="0.9" fill="#0a0a0a" opacity="0.75" filter="url(#bl)"/>
<rect x="309.0" y="556.85" width="24.0" height="2.7" rx="1.35" fill="#0a0a0a" opacity="0.97" filter="url(#bl)"/>
<rect x="340.0" y="557.05" width="23.5" height="2.5" rx="1.25" fill="#0a0a0a" opacity="0.95" filter="url(#bl)"/>
<rect x="370.0" y="556.55" width="24.0" height="1.9" rx="0.95" fill="#0a0a0a" opacity="0.68" filter="url(#bl)" transform="rotate(-3 382.0 557.5)"/>
<rect x="398.5" y="555.95" width="25.0" height="2.5" rx="1.25" fill="#0a0a0a" opacity="0.92" filter="url(#bl)" transform="rotate(-3 411.0 557.2)"/>
<rect x="430.0" y="555.25" width="24.0" height="2.7" rx="1.35" fill="#0a0a0a" opacity="0.96" filter="url(#bl)" transform="rotate(-2 442.0 556.6)"/>
<rect x="460.5" y="555.45" width="22.5" height="2.9" rx="1.45" fill="#0a0a0a" opacity="0.96" filter="url(#bl)" transform="rotate(2 471.8 556.9)"/>
<rect x="280.5" y="587.10" width="24.0" height="3.8" rx="1.9" fill="#0a0a0a" opacity="0.6" filter="url(#bl)"/>
<rect x="308.5" y="587.10" width="26.0" height="3.8" rx="1.9" fill="#0a0a0a" opacity="0.85" filter="url(#bl)"/>
<rect x="339.5" y="587.00" width="26.5" height="4.6" rx="2.3" fill="#0a0a0a" opacity="0.97" filter="url(#bl)"/>
<rect x="369.0" y="585.95" width="27.0" height="4.7" rx="2.35" fill="#0a0a0a" opacity="1.0" filter="url(#bl)"/>
<rect x="398.5" y="586.45" width="27.5" height="4.5" rx="2.25" fill="#0a0a0a" opacity="0.98" filter="url(#bl)"/>
<rect x="430.0" y="586.15" width="25.0" height="4.5" rx="2.25" fill="#0a0a0a" opacity="0.98" filter="url(#bl)"/>
<rect x="460.5" y="587.05" width="13.5" height="3.9" rx="1.95" fill="#0a0a0a" opacity="0.92" filter="url(#bl)" transform="rotate(8 467.2 589.0)"/>
<rect x="469.0" y="589.90" width="15.5" height="3.4" rx="1.7" fill="#0a0a0a" opacity="0.45" filter="url(#bl2)" transform="rotate(6 476.8 591.6)"/>
<line x1="262.80" y1="514.30" x2="273.60" y2="514.30" stroke="#111" stroke-width="2.2" />
<line x1="262.80" y1="550.10" x2="273.60" y2="550.10" stroke="#111" stroke-width="2.2" />
<line x1="262.80" y1="592.90" x2="273.60" y2="592.90" stroke="#111" stroke-width="2.2" />
<text x="258.40" y="517.90" font-size="10.2" text-anchor="end" fill="#222" >40</text>
<text x="258.40" y="553.50" font-size="10.2" text-anchor="end" fill="#222" >40</text>
<text x="258.40" y="596.90" font-size="10.2" text-anchor="end" fill="#222" >35</text>
<line x1="279.70" y1="501.50" x2="359.50" y2="501.50" stroke="#222" stroke-width="1.1" />
<line x1="370.00" y1="501.50" x2="450.10" y2="501.50" stroke="#222" stroke-width="1.1" />
<line x1="460.10" y1="501.50" x2="486.30" y2="501.50" stroke="#222" stroke-width="1.1" />
<text x="320.60" y="495.30" font-size="10.2" text-anchor="middle" fill="#222" >WT</text>
<text x="409.50" y="495.30" font-size="10.2" text-anchor="middle" fill="#222" >A226Y</text>
<text x="473.20" y="495.30" font-size="10.2" text-anchor="middle" fill="#222" >Ars</text>
<text x="493.80" y="525.60" font-size="10.2" fill="#222" >p-eIF2α</text>
<text x="493.80" y="558.90" font-size="10.2" fill="#222" >eIF2α</text>
<text x="493.80" y="591.60" font-size="10.2" fill="#222" >GAPDH</text>
<rect x="580.80" y="468.20" width="101.50" height="145.80" fill="none" stroke="#444" stroke-width="1.1"/>
<line x1="577.80" y1="614.00" x2="580.80" y2="614.00" stroke="#444" stroke-width="1.1" />
<text x="574.20" y="617.60" font-size="10.2" text-anchor="end" fill="#222" >0</text>
<line x1="577.80" y1="565.40" x2="580.80" y2="565.40" stroke="#444" stroke-width="1.1" />
<text x="574.20" y="569.00" font-size="10.2" text-anchor="end" fill="#222" >2</text>
<line x1="577.80" y1="516.80" x2="580.80" y2="516.80" stroke="#444" stroke-width="1.1" />
<text x="574.20" y="520.40" font-size="10.2" text-anchor="end" fill="#222" >4</text>
<line x1="577.80" y1="468.20" x2="580.80" y2="468.20" stroke="#444" stroke-width="1.1" />
<text x="574.20" y="471.80" font-size="10.2" text-anchor="end" fill="#222" >6</text>
<line x1="593.00" y1="614.00" x2="593.00" y2="617.00" stroke="#444" stroke-width="1.1" />
<text x="593.00" y="627.70" font-size="10.2" text-anchor="end" transform="rotate(-45 593.00 627.70)" fill="#222" >HEK WT</text>
<line x1="618.60" y1="614.00" x2="618.60" y2="617.00" stroke="#444" stroke-width="1.1" />
<text x="618.60" y="627.70" font-size="10.2" text-anchor="end" transform="rotate(-45 618.60 627.70)" fill="#222" >CHX</text>
<line x1="644.10" y1="614.00" x2="644.10" y2="617.00" stroke="#444" stroke-width="1.1" />
<text x="644.10" y="627.70" font-size="10.2" text-anchor="end" transform="rotate(-45 644.10 627.70)" fill="#222" >WT</text>
<line x1="669.70" y1="614.00" x2="669.70" y2="617.00" stroke="#444" stroke-width="1.1" />
<text x="669.70" y="627.70" font-size="10.2" text-anchor="end" transform="rotate(-45 669.70 627.70)" fill="#222" >A226Y</text>
<text x="558.60" y="542.00" font-size="10.2" text-anchor="middle" transform="rotate(-90 558.60 542.00)" fill="#222" >Polysomal half life (min)</text>
<circle cx="587.50" cy="550.60" r="1.8" fill="none" stroke="#444" stroke-width="0.85"/>
<circle cx="591.00" cy="553.60" r="1.8" fill="none" stroke="#444" stroke-width="0.85"/>
<circle cx="593.00" cy="555.40" r="1.8" fill="none" stroke="#444" stroke-width="0.85"/>
<circle cx="595.50" cy="553.30" r="1.8" fill="none" stroke="#444" stroke-width="0.85"/>
<circle cx="598.50" cy="553.20" r="1.8" fill="none" stroke="#444" stroke-width="0.85"/>
<line x1="584.20" y1="553.40" x2="601.80" y2="553.40" stroke="#333" stroke-width="1.2" />
<line x1="609.80" y1="492.50" x2="627.40" y2="492.50" stroke="#333" stroke-width="1.2" />
<path d="M618.6 490.1L621 492.5L618.6 494.9L616.2 492.5Z" fill="#2a2a2a"/>
<circle cx="638.90" cy="554.20" r="1.8" fill="none" stroke="#444" stroke-width="0.85"/>
<circle cx="643.70" cy="555.40" r="1.8" fill="none" stroke="#444" stroke-width="0.85"/>
<circle cx="646.70" cy="553.50" r="1.8" fill="none" stroke="#444" stroke-width="0.85"/>
<circle cx="649.60" cy="554.30" r="1.8" fill="none" stroke="#444" stroke-width="0.85"/>
<line x1="635.50" y1="554.60" x2="652.70" y2="554.60" stroke="#333" stroke-width="1.2" />
<line x1="660.50" y1="543.40" x2="678.20" y2="543.40" stroke="#333" stroke-width="1.2" />
<line x1="664.00" y1="541.60" x2="675.00" y2="541.60" stroke="#333" stroke-width="0.9" />
<line x1="664.00" y1="545.20" x2="675.00" y2="545.20" stroke="#333" stroke-width="0.9" />
<circle cx="674.80" cy="535.90" r="1.9" fill="#2e2e2e"/>
<circle cx="664.10" cy="539.70" r="1.9" fill="#2e2e2e"/>
<circle cx="669.40" cy="541.30" r="1.9" fill="#2e2e2e"/>
<circle cx="672.10" cy="544.20" r="1.9" fill="#2e2e2e"/>
<circle cx="664.10" cy="545.30" r="1.9" fill="#2e2e2e"/>
<circle cx="674.70" cy="547.40" r="1.9" fill="#2e2e2e"/>
<circle cx="669.40" cy="548.70" r="1.9" fill="#2e2e2e"/>
<path d="M644.50 525.20V522.80H670.10V525.20" fill="none" stroke="#555" stroke-width="1.3"/>
<text x="657.80" y="523.30" font-size="10.2" text-anchor="middle" fill="#4a4a4a" letter-spacing="0.9" stroke="#4a4a4a" stroke-width="0.2">***</text>
</svg>
</body></html>
